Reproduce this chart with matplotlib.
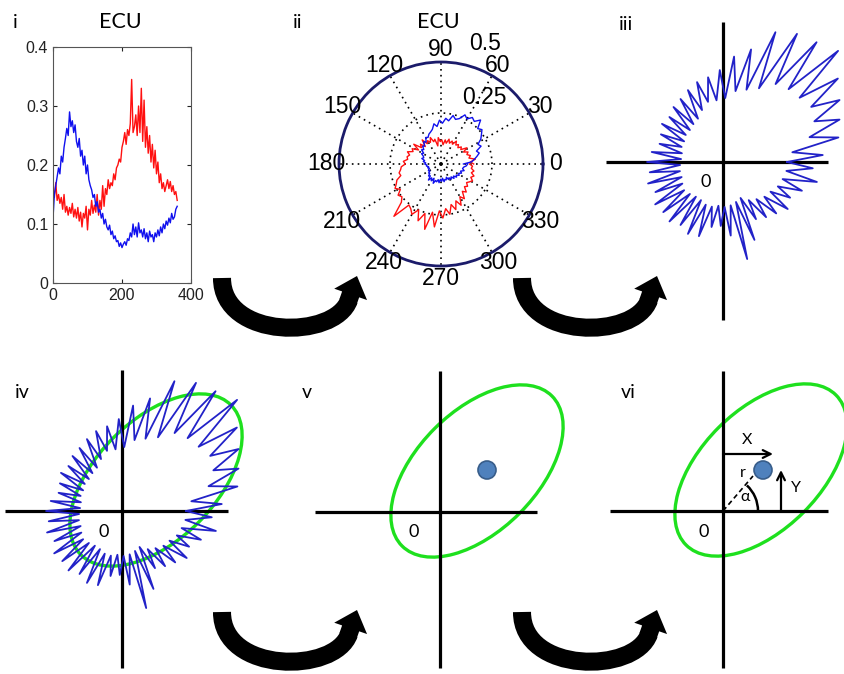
import numpy as np
import matplotlib.pyplot as plt
from matplotlib.patches import Ellipse, Circle, Arc, FancyArrowPatch, PathPatch, ArrowStyle
from matplotlib.path import Path

W, H = 845, 674

# ECU activity vs angle (panels i and ii)
angle_deg = np.arange(0, 361, 4)
ecu_blue = [0.110, 0.150, 0.165, 0.180, 0.195, 0.185, 0.215, 0.205, 0.230, 0.245,
            0.262, 0.250, 0.290, 0.265, 0.275, 0.255, 0.268, 0.240, 0.230, 0.245,
            0.215, 0.225, 0.200, 0.215, 0.185, 0.200, 0.175, 0.165, 0.158, 0.145,
            0.150, 0.130, 0.138, 0.120, 0.125, 0.110, 0.118, 0.100, 0.108, 0.095,
            0.090, 0.098, 0.082, 0.088, 0.075, 0.080, 0.070, 0.072, 0.062, 0.068,
            0.060, 0.066, 0.070, 0.064, 0.075, 0.072, 0.085, 0.078, 0.100, 0.082,
            0.095, 0.078, 0.102, 0.085, 0.090, 0.078, 0.092, 0.075, 0.085, 0.070,
            0.088, 0.078, 0.082, 0.070, 0.085, 0.078, 0.090, 0.080, 0.095, 0.085,
            0.100, 0.092, 0.105, 0.098, 0.110, 0.102, 0.118, 0.108, 0.112, 0.125,
            0.130]
ecu_red = [0.160, 0.145, 0.170, 0.140, 0.150, 0.135, 0.145, 0.125, 0.150, 0.120,
           0.130, 0.115, 0.128, 0.118, 0.135, 0.112, 0.125, 0.110, 0.128, 0.105,
           0.120, 0.095, 0.118, 0.110, 0.130, 0.090, 0.125, 0.115, 0.140, 0.118,
           0.132, 0.120, 0.150, 0.115, 0.140, 0.125, 0.165, 0.130, 0.160, 0.150,
           0.175, 0.160, 0.170, 0.165, 0.185, 0.175, 0.195, 0.200, 0.210, 0.205,
           0.230, 0.240, 0.255, 0.235, 0.260, 0.250, 0.270, 0.345, 0.255, 0.265,
           0.285, 0.250, 0.300, 0.255, 0.330, 0.240, 0.310, 0.230, 0.265, 0.220,
           0.250, 0.205, 0.235, 0.195, 0.225, 0.185, 0.205, 0.170, 0.185, 0.160,
           0.170, 0.155, 0.165, 0.175, 0.160, 0.172, 0.155, 0.165, 0.150, 0.155,
           0.140]

# spiky trace for panels iii / iv (angle in deg, radius in px)
spike_angle = np.arange(0, 360, 8)
spike_inner = [64, 70, 90, 100, 104, 100, 98, 94, 82, 76, 72, 64, 62, 62, 56,
               50, 48, 46, 46, 44, 44, 42, 42, 43, 44, 44, 46, 48, 46, 44,
               44, 46, 46, 44, 45, 44, 42, 40, 46, 50, 54, 56, 60, 62, 64]
spike_outer = [100, 118, 124, 132, 142, 160, 152, 148, 140, 116, 106, 92, 86, 84, 80,
               76, 74, 70, 72, 68, 66, 72, 76, 74, 78, 74, 80, 78, 80, 76,
               80, 78, 66, 64, 74, 100, 84, 66, 70, 74, 80, 76, 84, 96, 90]

# fitted ellipse and centre point
ellipse_center_iv = (34, 31)
ellipse_center_v = (37, 41)
ellipse_center_vi = (38, 41)
ellipse_axes = (212, 120)
ellipse_angle = 45
centre_v = (47, 42)
centre_vi = (40, 41)

fig = plt.figure(figsize=(W / 100, H / 100), dpi=100)
tick_font = 'Liberation Sans'
lab_font = ['Lato', 'DejaVu Sans']


def px_axes(x0, y0, x1, y1, **kw):
    return fig.add_axes([x0 / W, 1 - y1 / H, (x1 - x0) / W, (y1 - y0) / H], **kw)


def ftext(x, y, s, size=14, **kw):
    fig.text(x / W, 1 - y / H, s, fontsize=size, family=lab_font,
             ha='center', va='center', **kw)


# ---- panel i
ax1 = px_axes(53, 47, 191, 283)
ax1.plot(angle_deg, ecu_red, color='#ff1010', lw=1.0)
ax1.plot(angle_deg, ecu_blue, color='#1010ee', lw=1.0)
ax1.set_xlim(0, 400)
ax1.set_ylim(0, 0.4)
ax1.set_xticks([0, 200, 400])
ax1.set_yticks([0, 0.1, 0.2, 0.3, 0.4])
ax1.set_yticklabels(['0', '0.1', '0.2', '0.3', '0.4'])
ax1.tick_params(direction='in', top=True, right=True, length=3, width=0.8,
                labelsize=11.5, colors='#222222')
for lab in ax1.get_xticklabels() + ax1.get_yticklabels():
    lab.set_family(tick_font)
for sp in ax1.spines.values():
    sp.set_color('#555555')
    sp.set_linewidth(0.8)

# ---- panel ii (polar)
axp = px_axes(441 - 102, 164 - 102, 441 + 102, 164 + 102, projection='polar')
th = np.deg2rad(angle_deg)
axp.plot(th, ecu_red, color='#ff1010', lw=1.0)
axp.plot(th, ecu_blue, color='#1010ee', lw=1.0)
axp.set_rlim(0, 0.5)
axp.set_rticks([0.25])
axp.set_yticklabels([])
axp.set_thetagrids(range(0, 360, 30), labels=[])
axp.grid(True, color='k', linestyle=(0, (1, 2.5)), lw=1.2)
axp.spines['polar'].set_color('#1b1b6a')
axp.spines['polar'].set_linewidth(2)
for a in range(0, 360, 30):
    axp.text(np.deg2rad(a), 0.56, str(a), ha='center', va='center',
             fontsize=16.5, family=tick_font, clip_on=False)
axp.text(np.deg2rad(70), 0.63, '0.5', ha='center', va='center',
         fontsize=16.5, family=tick_font, clip_on=False)
axp.text(np.deg2rad(57), 0.39, '0.25', ha='center', va='center',
         fontsize=16.5, family=tick_font, clip_on=False)

ftext(120, 22, 'ECU', 15.5)
ftext(438, 22, 'ECU', 15.5)
ftext(15, 22, 'i', 14)
ftext(298, 22, 'ii', 14)
ftext(626, 24, 'iii', 14)
ftext(22, 393, 'iv', 14)
ftext(307, 393, 'v', 14)
ftext(628, 393, 'vi', 14)


# ---- panels iii - vi : px units, origin at the axis crossing
def cross_axes(x0, y0, x1, y1, ox, oy, hx, vy):
    ax = px_axes(x0, y0, x1, y1)
    ax.set_xlim(x0 - ox, x1 - ox)
    ax.set_ylim(oy - y1, oy - y0)
    ax.axis('off')
    ax.plot(hx, [0, 0], color='k', lw=2.3, solid_capstyle='butt')
    ax.plot([0, 0], vy, color='k', lw=2.3, solid_capstyle='butt')
    return ax


sp_th = np.deg2rad(np.ravel(np.column_stack([spike_angle, spike_angle + 4])))
sp_r = np.ravel(np.column_stack([spike_inner, spike_outer]))
sp_th = np.append(sp_th, sp_th[0])
sp_r = np.append(sp_r, sp_r[0])
sp_x = sp_r * np.cos(sp_th)
sp_y = sp_r * np.sin(sp_th)

ax3 = cross_axes(600, 10, 845, 330, 723, 162, [-117, 105], [-158, 140])
ax3.plot(sp_x, sp_y, color='#2222c8', lw=1.3, clip_on=False)
ftext(706, 182, '0', 13)

ax4 = cross_axes(0, 360, 290, 674, 122, 511, [-117, 106], [-157, 141])
ax4.plot(sp_x, sp_y, color='#2222c8', lw=1.3, clip_on=False)
ax4.add_patch(Ellipse(ellipse_center_iv, *ellipse_axes, angle=ellipse_angle,
                      fill=False, ec='#1ee01e', lw=2.4, clip_on=False))
ftext(104, 532, '0', 13)

ax5 = cross_axes(290, 360, 600, 674, 440, 512, [-125, 97], [-156, 141])
ax5.add_patch(Ellipse(ellipse_center_v, *ellipse_axes, angle=ellipse_angle,
                      fill=False, ec='#1ee01e', lw=2.4, clip_on=False))
ax5.add_patch(Circle(centre_v, 9, fc='#4f81bd', ec='#385d8a', lw=1.2, zorder=5))
ftext(414, 532, '0', 13)

ax6 = cross_axes(600, 360, 845, 674, 723, 511, [-113, 105], [-157, 140])
ax6.add_patch(Ellipse(ellipse_center_vi, *ellipse_axes, angle=ellipse_angle,
                      fill=False, ec='#1ee01e', lw=2.4, clip_on=False))
ax6.add_patch(Circle(centre_vi, 9, fc='#4f81bd', ec='#385d8a', lw=1.2, zorder=5))
ax6.annotate('', xy=(50, 57), xytext=(0, 57),
             arrowprops=dict(arrowstyle='->', lw=1.6, color='k', mutation_scale=14,
                             shrinkA=0, shrinkB=0))
ax6.annotate('', xy=(58, 41), xytext=(58, 0),
             arrowprops=dict(arrowstyle='->', lw=1.6, color='k', mutation_scale=14,
                             shrinkA=0, shrinkB=0))
ax6.plot([0, 30], [0, 35], color='k', lw=1.2, ls=(0, (3, 2)))
ax6.add_patch(Arc((0, 0), 70, 70, theta1=0, theta2=47, color='k', lw=1.8))
ax6.text(24, 71, 'X', fontsize=11.5, family=lab_font, ha='center', va='center')
ax6.text(73, 23, 'Y', fontsize=11.5, family=lab_font, ha='center', va='center')
ax6.text(20, 38, 'r', fontsize=11.5, family=lab_font, ha='center', va='center')
ax6.text(22, 14, 'α', fontsize=11.5, family=lab_font, ha='center', va='center')
ftext(704, 532, '0', 13)

# ---- curved transition arrows (overlay in px coords)
axo = fig.add_axes([0, 0, 1, 1])
axo.set_xlim(0, W)
axo.set_ylim(H, 0)
axo.axis('off')
axo.patch.set_visible(False)
for dx, dy in [(0, 0), (300, 0), (0, 334), (300, 334)]:
    body = Path([(222 + dx, 278 + dy), (222 + dx, 340 + dy),
                 (335 + dx, 340 + dy), (349 + dx, 300 + dy)],
                [Path.MOVETO, Path.CURVE4, Path.CURVE4, Path.CURVE4])
    axo.add_patch(PathPatch(body, fill=False, ec='k', lw=13, capstyle='butt'))
    axo.add_patch(FancyArrowPatch((348 + dx, 302 + dy), (357 + dx, 276 + dy),
                                  arrowstyle=ArrowStyle.Simple(head_length=14,
                                                               head_width=25,
                                                               tail_width=13),
                                  color='k', shrinkA=0, shrinkB=0, lw=0))

fig.savefig('out.png', dpi=100)
